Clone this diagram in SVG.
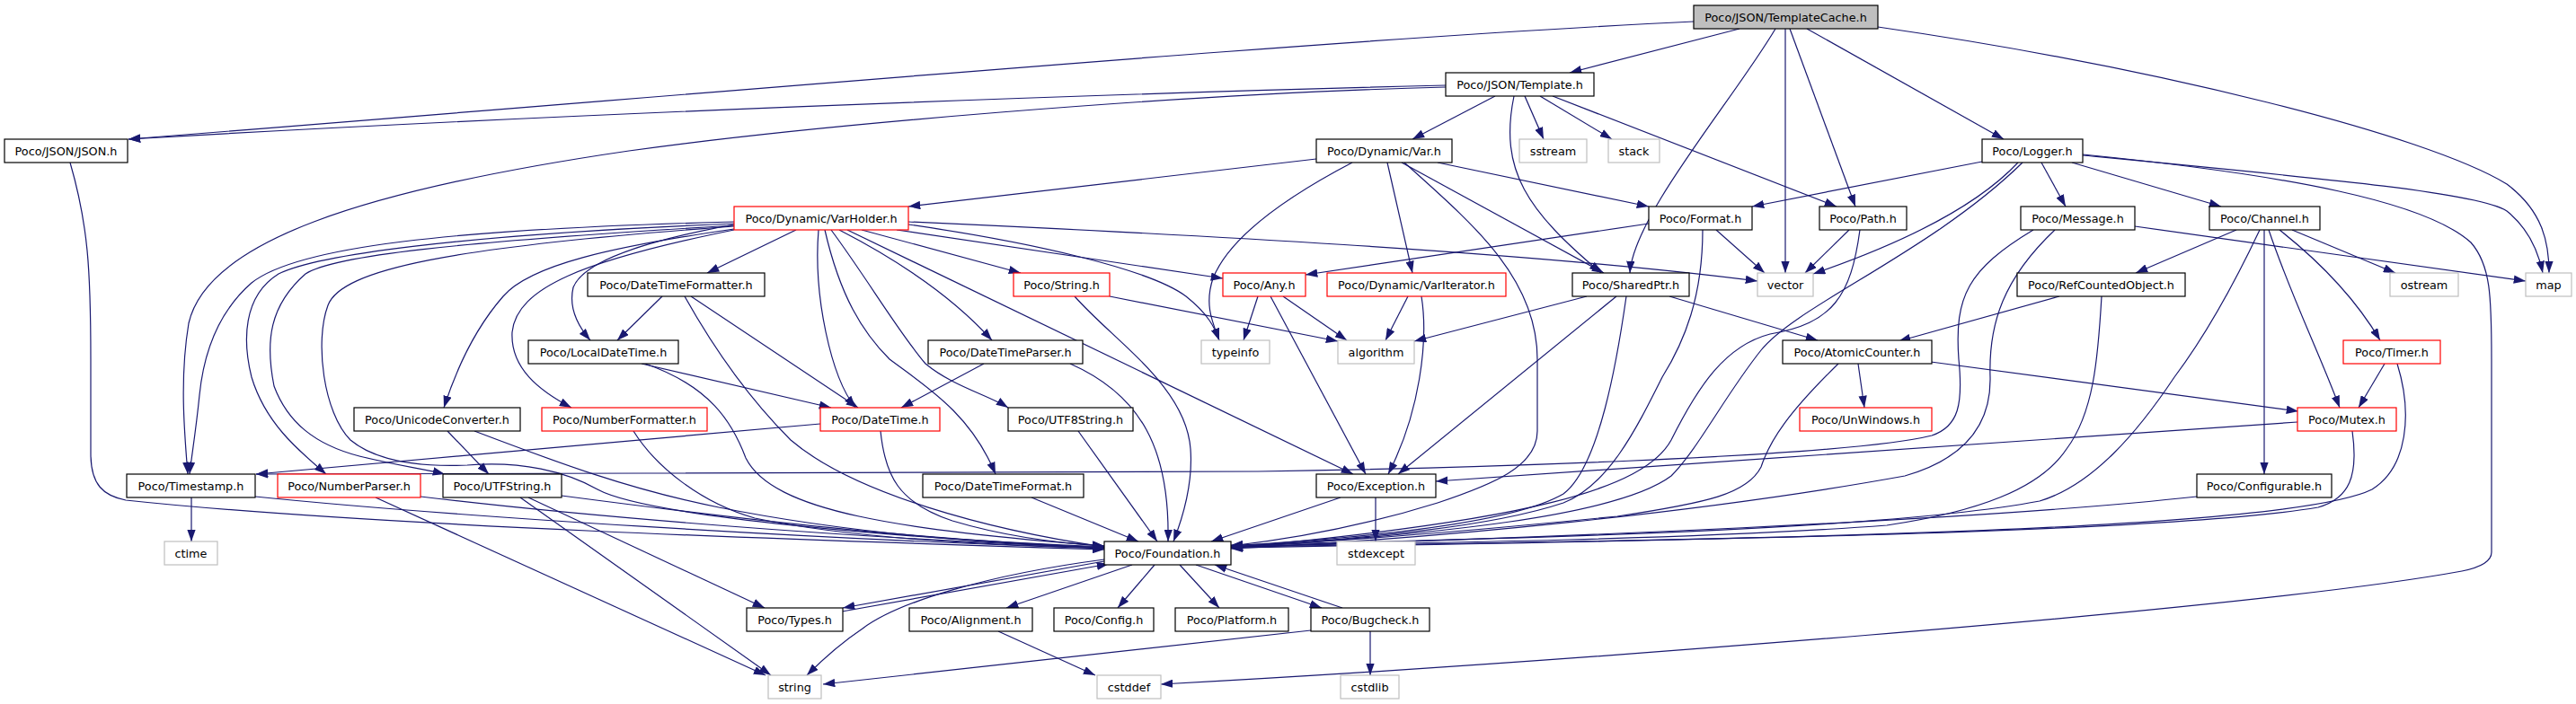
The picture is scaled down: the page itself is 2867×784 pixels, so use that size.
<svg xmlns="http://www.w3.org/2000/svg" width="2867" height="784" viewBox="0 0 2867 784">
<style>
rect{fill:#fff;stroke:#000;stroke-width:1.2}
.r rect{stroke:#ff0000}
.g rect{stroke:#bfbfbf}
.root rect{fill:#bfbfbf}
text{font-family:"DejaVu Sans","Liberation Sans",sans-serif;font-size:12.8px;text-anchor:middle;fill:#000}
#edges path{fill:none;stroke:#191970;stroke-width:1.2;marker-end:url(#a)}
</style>
<defs>
<marker id="a" markerUnits="userSpaceOnUse" markerWidth="13.3" markerHeight="9.4" refX="13.3" refY="4.7" orient="auto" viewBox="0 0 13.3 9.4"><path d="M0,0 L13.3,4.7 L0,9.4 z" fill="#191970"/></marker>
</defs>
<rect x="0" y="0" width="2867" height="784" style="fill:#fff;stroke:none"/>
<g id="edges">
<path d="M1885,24 C1500,42 900,95 143,155"/>
<path d="M1609,95 C1200,105 600,128 143,155"/>
<path d="M1609,97 C1300,105 900,140 700,168 C400,212 230,270 210,360 C200,420 205,480 209,528"/>
<path d="M1936,32 L1747,81"/>
<path d="M1976,32 C1930,110 1818,240 1814,304"/>
<path d="M1987,32 L1987,304"/>
<path d="M1992,32 L2065,230"/>
<path d="M2011,32 L2230,155"/>
<path d="M2090,30 C2400,75 2700,150 2790,205 C2830,235 2837,270 2837,304"/>
<path d="M1664,107 L1572,155"/>
<path d="M1685,107 C1668,190 1700,235 1782,304"/>
<path d="M1697,107 L1718,155"/>
<path d="M1714,107 L1794,155"/>
<path d="M1728,107 L2044,230"/>
<path d="M78,181 C98,250 101,300 101,400 L101,505 C101,540 115,552 140,557 C400,585 900,602 1229,612"/>
<path d="M1465,177 L1011,230"/>
<path d="M1505,181 C1440,215 1370,260 1350,310 C1340,340 1350,360 1357,379"/>
<path d="M1544,181 L1572,304"/>
<path d="M1560,181 L1785,304"/>
<path d="M1600,181 L1835,230"/>
<path d="M1563,181 C1640,250 1711,310 1711,400 L1711,480 C1711,520 1660,540 1600,560 C1520,585 1440,600 1370,608"/>
<path d="M886,256 L787,304"/>
<path d="M911,256 C905,330 925,420 952,454"/>
<path d="M918,256 C935,330 960,370 990,400 C1030,430 1080,460 1108,528"/>
<path d="M925,256 C965,310 1000,370 1030,405 C1060,430 1100,440 1122,454"/>
<path d="M934,256 C1000,290 1060,330 1104,379"/>
<path d="M943,256 L1506,528"/>
<path d="M1196,330 C1240,380 1320,430 1325,500 C1328,540 1315,580 1306,603"/>
<path d="M959,256 L1136,304"/>
<path d="M998,256 L1361,310"/>
<path d="M1011,247 C1300,260 1700,280 1956,313"/>
<path d="M1011,250 C1150,270 1280,300 1320,330 C1345,350 1352,365 1357,379"/>
<path d="M817,250 C720,268 650,290 638,320 C632,345 645,365 657,379"/>
<path d="M737,330 L687,379"/>
<path d="M769,330 L955,454"/>
<path d="M762,330 C790,380 830,440 880,490 C950,550 1100,590 1229,609"/>
<path d="M714,405 L925,454"/>
<path d="M718,405 C790,430 815,470 830,510 C860,570 1000,590 1229,608"/>
<path d="M1095,405 L1003,454"/>
<path d="M1191,405 C1270,440 1302,500 1300,603"/>
<path d="M913,472 L285,528"/>
<path d="M980,480 C985,530 1000,560 1060,580 C1120,598 1180,605 1229,608"/>
<path d="M1200,480 L1288,603"/>
<path d="M1148,554 L1267,603"/>
<path d="M817,247 C500,255 330,275 280,315 C240,350 226,400 222,440 C218,480 213,510 211,528"/>
<path d="M817,249 C500,262 350,285 310,305 C270,330 270,380 280,420 C295,470 330,500 363,528"/>
<path d="M817,251 C500,270 370,285 340,305 C300,340 295,380 305,430 C320,470 350,495 400,508 C440,518 470,522 495,528"/>
<path d="M817,252 C500,275 380,300 365,340 C350,380 360,460 390,490 C420,515 470,520 520,518 C580,513 630,525 665,545 C720,575 1000,600 1229,609"/>
<path d="M817,255 C680,275 590,295 560,330 C525,370 505,420 494,454"/>
<path d="M817,256 C650,290 575,320 570,370 C568,410 600,435 636,454"/>
<path d="M498,480 L544,528"/>
<path d="M528,480 C620,515 700,545 800,565 C950,595 1100,605 1229,610"/>
<path d="M705,480 C730,520 780,560 840,577 C950,600 1100,607 1229,610"/>
<path d="M213,554 L213,603"/>
<path d="M284,553 C500,575 900,600 1229,611"/>
<path d="M468,553 C650,575 950,600 1229,610"/>
<path d="M418,554 L852,752"/>
<path d="M625,552 C800,575 1000,600 1229,610"/>
<path d="M588,554 L851,677"/>
<path d="M579,554 L858,752"/>
<path d="M1229,623 C1100,640 1000,670 960,700 C930,720 910,740 898,752"/>
<path d="M937,681 L1234,628"/>
<path d="M1229,625 L938,677"/>
<path d="M1260,629 L1120,677"/>
<path d="M1285,629 L1244,677"/>
<path d="M1313,629 L1357,677"/>
<path d="M1331,629 L1471,677"/>
<path d="M1494,677 L1352,629"/>
<path d="M1111,703 L1219,752"/>
<path d="M1459,702 L916,762"/>
<path d="M1525,703 L1525,752"/>
<path d="M2318,172 C2550,195 2700,225 2750,270 C2772,295 2773,330 2773,400 L2773,615 C2773,625 2760,632 2740,636 C2500,680 1700,740 1292,762"/>
<path d="M2318,173 C2600,200 2760,215 2790,235 C2815,255 2825,280 2830,304"/>
<path d="M2206,180 L1950,230"/>
<path d="M2246,181 C2200,230 2120,270 2018,305"/>
<path d="M2251,181 C2150,280 2000,340 1960,390 C1920,440 1890,500 1860,530 C1800,575 1600,595 1370,610"/>
<path d="M2272,181 L2299,230"/>
<path d="M2306,181 L2472,230"/>
<path d="M2058,256 L2009,304"/>
<path d="M2070,256 C2060,330 2040,360 1970,372 C1920,385 1890,430 1860,490 C1830,545 1700,580 1370,610"/>
<path d="M1835,249 L1453,306"/>
<path d="M1910,256 L1964,304"/>
<path d="M1895,256 C1895,330 1875,380 1850,420 C1820,480 1790,540 1740,560 C1650,590 1500,600 1370,610"/>
<path d="M1766,330 L1574,380"/>
<path d="M1799,330 L1556,528"/>
<path d="M1810,330 C1800,400 1780,520 1740,550 C1680,585 1500,600 1370,608"/>
<path d="M1858,330 L2023,379"/>
<path d="M1400,330 L1384,379"/>
<path d="M1428,330 L1499,379"/>
<path d="M1414,330 L1520,528"/>
<path d="M1235,330 L1489,380"/>
<path d="M1567,330 L1542,379"/>
<path d="M1582,330 C1590,380 1580,460 1545,528"/>
<path d="M1531,554 L1531,603"/>
<path d="M1492,554 L1348,603"/>
<path d="M2263,256 C2190,300 2175,330 2180,400 C2185,450 2180,475 2150,485 C2050,510 1600,522 1400,525 L720,527 L285,528"/>
<path d="M2287,256 C2230,310 2213,360 2215,420 C2216,470 2190,510 2120,530 C1900,570 1600,600 1370,611"/>
<path d="M2376,252 L2811,313"/>
<path d="M2489,256 L2377,304"/>
<path d="M2515,256 C2480,330 2450,380 2420,420 C2380,480 2330,540 2270,558 C2100,590 1700,600 1370,607"/>
<path d="M2520,256 L2520,528"/>
<path d="M2525,256 C2550,330 2580,390 2604,454"/>
<path d="M2537,256 C2580,290 2620,330 2649,379"/>
<path d="M2551,256 L2666,304"/>
<path d="M2292,330 L2113,380"/>
<path d="M2339,330 C2335,400 2330,460 2300,500 C2270,545 2200,570 2100,585 C1900,600 1600,605 1370,608"/>
<path d="M2068,405 L2075,454"/>
<path d="M2149,403 L2558,458"/>
<path d="M2046,405 C1990,460 1970,490 1960,520 C1945,550 1900,560 1800,575 C1600,595 1450,605 1370,609"/>
<path d="M2654,405 L2625,454"/>
<path d="M2668,405 C2685,460 2680,520 2640,545 C2550,590 2000,600 1370,610"/>
<path d="M2618,480 C2625,530 2615,555 2580,565 C2400,595 1800,603 1370,609"/>
<path d="M2557,470 L1598,536"/>
<path d="M2445,553 C2200,580 1700,600 1370,609"/>
</g>
<g id="n_templatecache" class="root"><rect x="1885" y="6" width="205" height="26"/><text x="1987.5" y="23.5">Poco/JSON/TemplateCache.h</text></g>
<g id="n_template"><rect x="1609" y="81" width="165" height="26"/><text x="1691.5" y="98.5">Poco/JSON/Template.h</text></g>
<g id="n_json"><rect x="5" y="155" width="137" height="26"/><text x="73.5" y="172.5">Poco/JSON/JSON.h</text></g>
<g id="n_var"><rect x="1465" y="155" width="151" height="26"/><text x="1540.5" y="172.5">Poco/Dynamic/Var.h</text></g>
<g id="n_sstream" class="g"><rect x="1691" y="155" width="75" height="26"/><text x="1728.5" y="172.5">sstream</text></g>
<g id="n_stack" class="g"><rect x="1790" y="155" width="57" height="26"/><text x="1818.5" y="172.5">stack</text></g>
<g id="n_logger"><rect x="2206" y="155" width="112" height="26"/><text x="2262" y="172.5">Poco/Logger.h</text></g>
<g id="n_varholder" class="r"><rect x="817" y="230" width="194" height="26"/><text x="914" y="247.5">Poco/Dynamic/VarHolder.h</text></g>
<g id="n_format"><rect x="1835" y="230" width="115" height="26"/><text x="1892.5" y="247.5">Poco/Format.h</text></g>
<g id="n_path"><rect x="2025" y="230" width="97" height="26"/><text x="2073.5" y="247.5">Poco/Path.h</text></g>
<g id="n_message"><rect x="2249" y="230" width="127" height="26"/><text x="2312.5" y="247.5">Poco/Message.h</text></g>
<g id="n_channel"><rect x="2459" y="230" width="123" height="26"/><text x="2520.5" y="247.5">Poco/Channel.h</text></g>
<g id="n_dtformatter"><rect x="654" y="304" width="197" height="26"/><text x="752.5" y="321.5">Poco/DateTimeFormatter.h</text></g>
<g id="n_string_h" class="r"><rect x="1128" y="304" width="107" height="26"/><text x="1181.5" y="321.5">Poco/String.h</text></g>
<g id="n_any" class="r"><rect x="1361" y="304" width="92" height="26"/><text x="1407" y="321.5">Poco/Any.h</text></g>
<g id="n_variterator" class="r"><rect x="1477" y="304" width="199" height="26"/><text x="1576.5" y="321.5">Poco/Dynamic/VarIterator.h</text></g>
<g id="n_sharedptr"><rect x="1750" y="304" width="130" height="26"/><text x="1815" y="321.5">Poco/SharedPtr.h</text></g>
<g id="n_vector" class="g"><rect x="1956" y="304" width="62" height="26"/><text x="1987" y="321.5">vector</text></g>
<g id="n_refcounted"><rect x="2245" y="304" width="187" height="26"/><text x="2338.5" y="321.5">Poco/RefCountedObject.h</text></g>
<g id="n_ostream" class="g"><rect x="2660" y="304" width="76" height="26"/><text x="2698" y="321.5">ostream</text></g>
<g id="n_map" class="g"><rect x="2811" y="304" width="51" height="26"/><text x="2836.5" y="321.5">map</text></g>
<g id="n_localdatetime"><rect x="588" y="379" width="167" height="26"/><text x="671.5" y="396.5">Poco/LocalDateTime.h</text></g>
<g id="n_dtparser"><rect x="1033" y="379" width="172" height="26"/><text x="1119" y="396.5">Poco/DateTimeParser.h</text></g>
<g id="n_typeinfo" class="g"><rect x="1337" y="379" width="76" height="26"/><text x="1375" y="396.5">typeinfo</text></g>
<g id="n_algorithm" class="g"><rect x="1489" y="379" width="85" height="26"/><text x="1531.5" y="396.5">algorithm</text></g>
<g id="n_atomiccounter"><rect x="1984" y="379" width="166" height="26"/><text x="2067" y="396.5">Poco/AtomicCounter.h</text></g>
<g id="n_timer" class="r"><rect x="2608" y="379" width="108" height="26"/><text x="2662" y="396.5">Poco/Timer.h</text></g>
<g id="n_unicodeconverter"><rect x="394" y="454" width="185" height="26"/><text x="486.5" y="471.5">Poco/UnicodeConverter.h</text></g>
<g id="n_numberformatter" class="r"><rect x="603" y="454" width="184" height="26"/><text x="695" y="471.5">Poco/NumberFormatter.h</text></g>
<g id="n_datetime" class="r"><rect x="913" y="454" width="133" height="26"/><text x="979.5" y="471.5">Poco/DateTime.h</text></g>
<g id="n_utf8string"><rect x="1122" y="454" width="139" height="26"/><text x="1191.5" y="471.5">Poco/UTF8String.h</text></g>
<g id="n_unwindows" class="r"><rect x="2003" y="454" width="147" height="26"/><text x="2076.5" y="471.5">Poco/UnWindows.h</text></g>
<g id="n_mutex" class="r"><rect x="2557" y="454" width="110" height="26"/><text x="2612" y="471.5">Poco/Mutex.h</text></g>
<g id="n_timestamp"><rect x="141" y="528" width="143" height="26"/><text x="212.5" y="545.5">Poco/Timestamp.h</text></g>
<g id="n_numberparser" class="r"><rect x="309" y="528" width="159" height="26"/><text x="388.5" y="545.5">Poco/NumberParser.h</text></g>
<g id="n_utfstring"><rect x="493" y="528" width="132" height="26"/><text x="559" y="545.5">Poco/UTFString.h</text></g>
<g id="n_dtformat"><rect x="1027" y="528" width="179" height="26"/><text x="1116.5" y="545.5">Poco/DateTimeFormat.h</text></g>
<g id="n_exception"><rect x="1465" y="528" width="133" height="26"/><text x="1531.5" y="545.5">Poco/Exception.h</text></g>
<g id="n_configurable"><rect x="2445" y="528" width="150" height="26"/><text x="2520" y="545.5">Poco/Configurable.h</text></g>
<g id="n_ctime" class="g"><rect x="183" y="603" width="59" height="26"/><text x="212.5" y="620.5">ctime</text></g>
<g id="n_foundation"><rect x="1229" y="603" width="141" height="26"/><text x="1299.5" y="620.5">Poco/Foundation.h</text></g>
<g id="n_stdexcept" class="g"><rect x="1488" y="603" width="87" height="26"/><text x="1531.5" y="620.5">stdexcept</text></g>
<g id="n_types"><rect x="831" y="677" width="107" height="26"/><text x="884.5" y="694.5">Poco/Types.h</text></g>
<g id="n_alignment"><rect x="1012" y="677" width="137" height="26"/><text x="1080.5" y="694.5">Poco/Alignment.h</text></g>
<g id="n_config"><rect x="1173" y="677" width="111" height="26"/><text x="1228.5" y="694.5">Poco/Config.h</text></g>
<g id="n_platform"><rect x="1308" y="677" width="126" height="26"/><text x="1371" y="694.5">Poco/Platform.h</text></g>
<g id="n_bugcheck"><rect x="1459" y="677" width="132" height="26"/><text x="1525" y="694.5">Poco/Bugcheck.h</text></g>
<g id="n_string" class="g"><rect x="855" y="752" width="59" height="26"/><text x="884.5" y="769.5">string</text></g>
<g id="n_cstddef" class="g"><rect x="1221" y="752" width="71" height="26"/><text x="1256.5" y="769.5">cstddef</text></g>
<g id="n_cstdlib" class="g"><rect x="1492" y="752" width="65" height="26"/><text x="1524.5" y="769.5">cstdlib</text></g>
</svg>
